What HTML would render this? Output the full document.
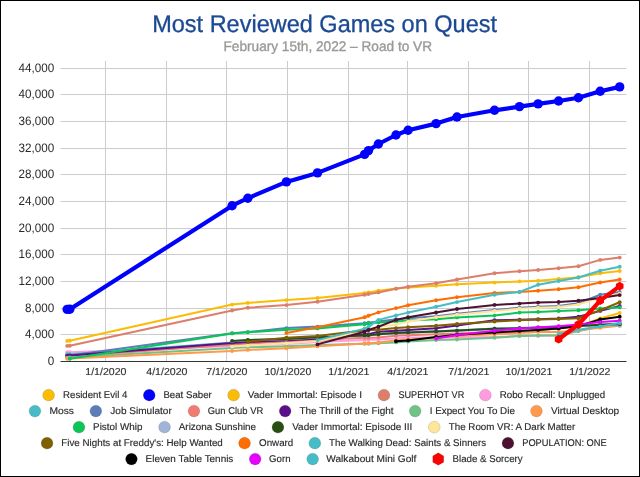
<!DOCTYPE html>
<html lang="en"><head><meta charset="utf-8"><title>Most Reviewed Games on Quest</title>
<style>
html,body{margin:0;padding:0;background:#fff;}
body{width:640px;height:477px;overflow:hidden;}
svg{display:block;font-family:"Liberation Sans",sans-serif;text-rendering:geometricPrecision;}
.ax{font-size:12.3px;fill:#2a2a2a;}
.xl{font-size:10.1px;fill:#333;stroke:#333;stroke-width:0.15px;}
.lg{font-size:9.8px;fill:#2a2a2a;stroke:#2a2a2a;stroke-width:0.15px;}
</style></head><body>
<svg width="640" height="477" viewBox="0 0 640 477">
<rect x="0" y="0" width="640" height="477" fill="#fff"/>
<text x="152.2" y="31.8" font-size="24.1" fill="#1b4993" stroke="#1b4993" stroke-width="0.3" textLength="344.8" lengthAdjust="spacingAndGlyphs">Most Reviewed Games on Quest</text>
<text x="223.5" y="51.2" font-size="14" fill="#999" stroke="#999" stroke-width="0.35" textLength="208.5" lengthAdjust="spacingAndGlyphs">February 15th, 2022 – Road to VR</text>
<g stroke="#ccc" stroke-width="1" fill="none">
<line x1="60.5" y1="334.5" x2="626.5" y2="334.5"/>
<line x1="60.5" y1="308.5" x2="626.5" y2="308.5"/>
<line x1="60.5" y1="281.5" x2="626.5" y2="281.5"/>
<line x1="60.5" y1="254.5" x2="626.5" y2="254.5"/>
<line x1="60.5" y1="228.5" x2="626.5" y2="228.5"/>
<line x1="60.5" y1="201.5" x2="626.5" y2="201.5"/>
<line x1="60.5" y1="174.5" x2="626.5" y2="174.5"/>
<line x1="60.5" y1="148.5" x2="626.5" y2="148.5"/>
<line x1="60.5" y1="121.5" x2="626.5" y2="121.5"/>
<line x1="60.5" y1="94.5" x2="626.5" y2="94.5"/>
<line x1="60.5" y1="68.5" x2="626.5" y2="68.5"/>
<line x1="105.5" y1="61.0" x2="105.5" y2="361.5"/>
<line x1="166.5" y1="61.0" x2="166.5" y2="361.5"/>
<line x1="226.5" y1="61.0" x2="226.5" y2="361.5"/>
<line x1="287.5" y1="61.0" x2="287.5" y2="361.5"/>
<line x1="348.5" y1="61.0" x2="348.5" y2="361.5"/>
<line x1="407.5" y1="61.0" x2="407.5" y2="361.5"/>
<line x1="468.5" y1="61.0" x2="468.5" y2="361.5"/>
<line x1="528.5" y1="61.0" x2="528.5" y2="361.5"/>
<line x1="589.5" y1="61.0" x2="589.5" y2="361.5"/>
</g>
<g class="ax" text-anchor="end">
<text x="54.3" y="365.10" textLength="6.49" lengthAdjust="spacingAndGlyphs">0</text>
<text x="54.3" y="338.10" textLength="29.19" lengthAdjust="spacingAndGlyphs">4,000</text>
<text x="54.3" y="312.10" textLength="29.19" lengthAdjust="spacingAndGlyphs">8,000</text>
<text x="54.3" y="285.10" textLength="35.68" lengthAdjust="spacingAndGlyphs">12,000</text>
<text x="54.3" y="258.10" textLength="35.68" lengthAdjust="spacingAndGlyphs">16,000</text>
<text x="54.3" y="232.10" textLength="35.68" lengthAdjust="spacingAndGlyphs">20,000</text>
<text x="54.3" y="205.10" textLength="35.68" lengthAdjust="spacingAndGlyphs">24,000</text>
<text x="54.3" y="178.10" textLength="35.68" lengthAdjust="spacingAndGlyphs">28,000</text>
<text x="54.3" y="152.10" textLength="35.68" lengthAdjust="spacingAndGlyphs">32,000</text>
<text x="54.3" y="125.10" textLength="35.68" lengthAdjust="spacingAndGlyphs">36,000</text>
<text x="54.3" y="98.10" textLength="35.68" lengthAdjust="spacingAndGlyphs">40,000</text>
<text x="54.3" y="72.10" textLength="35.68" lengthAdjust="spacingAndGlyphs">44,000</text>
</g>
<g class="xl" text-anchor="middle">
<text x="105.85" y="374.9" textLength="41.2" lengthAdjust="spacingAndGlyphs">1/1/2020</text>
<text x="166.85" y="374.9" textLength="41.2" lengthAdjust="spacingAndGlyphs">4/1/2020</text>
<text x="226.85" y="374.9" textLength="41.2" lengthAdjust="spacingAndGlyphs">7/1/2020</text>
<text x="287.85" y="374.9" textLength="46.8" lengthAdjust="spacingAndGlyphs">10/1/2020</text>
<text x="348.85" y="374.9" textLength="41.2" lengthAdjust="spacingAndGlyphs">1/1/2021</text>
<text x="407.85" y="374.9" textLength="41.2" lengthAdjust="spacingAndGlyphs">4/1/2021</text>
<text x="468.85" y="374.9" textLength="41.2" lengthAdjust="spacingAndGlyphs">7/1/2021</text>
<text x="528.85" y="374.9" textLength="46.8" lengthAdjust="spacingAndGlyphs">10/1/2021</text>
<text x="589.85" y="374.9" textLength="41.2" lengthAdjust="spacingAndGlyphs">1/1/2022</text>
</g>
<g fill="#fbbc04"><polyline points="578.4,326.3 600.2,318.4 619.7,313.0" fill="none" stroke="#fbbc04" stroke-width="2" stroke-linejoin="round" stroke-linecap="round"/><circle cx="578.4" cy="326.3" r="1.95"/><circle cx="600.2" cy="318.4" r="1.95"/><circle cx="619.7" cy="313.0" r="1.95"/></g>
<g fill="#0000ff"><polyline points="67.2,309.4 69.8,309.2 232.1,205.7 247.8,198.2 286.4,181.9 317.5,172.9 364.6,154.4 368.5,150.6 378.4,144.0 396.0,135.0 408.1,130.2 436.1,123.6 457.0,117.0 494.5,110.3 519.5,106.6 538.1,103.9 558.6,101.0 578.4,97.8 600.2,91.2 619.7,86.9" fill="none" stroke="#0000ff" stroke-width="4.2" stroke-linejoin="round" stroke-linecap="round"/><circle cx="67.2" cy="309.4" r="4.7"/><circle cx="69.8" cy="309.2" r="4.7"/><circle cx="232.1" cy="205.7" r="4.7"/><circle cx="247.8" cy="198.2" r="4.7"/><circle cx="286.4" cy="181.9" r="4.7"/><circle cx="317.5" cy="172.9" r="4.7"/><circle cx="364.6" cy="154.4" r="4.7"/><circle cx="368.5" cy="150.6" r="4.7"/><circle cx="378.4" cy="144.0" r="4.7"/><circle cx="396.0" cy="135.0" r="4.7"/><circle cx="408.1" cy="130.2" r="4.7"/><circle cx="436.1" cy="123.6" r="4.7"/><circle cx="457.0" cy="117.0" r="4.7"/><circle cx="494.5" cy="110.3" r="4.7"/><circle cx="519.5" cy="106.6" r="4.7"/><circle cx="538.1" cy="103.9" r="4.7"/><circle cx="558.6" cy="101.0" r="4.7"/><circle cx="578.4" cy="97.8" r="4.7"/><circle cx="600.2" cy="91.2" r="4.7"/><circle cx="619.7" cy="86.9" r="4.7"/></g>
<g fill="#fbbc04"><polyline points="67.2,340.9 69.8,340.8 232.1,304.6 247.8,302.9 286.4,300.1 317.5,298.0 364.6,293.1 368.5,292.4 378.4,290.7 396.0,288.6 408.1,287.5 436.1,285.8 457.0,284.3 494.5,282.6 519.5,281.4 538.1,280.7 558.6,279.0 578.4,277.3 600.2,273.2 619.7,271.0" fill="none" stroke="#fbbc04" stroke-width="2" stroke-linejoin="round" stroke-linecap="round"/><circle cx="67.2" cy="340.9" r="1.95"/><circle cx="69.8" cy="340.8" r="1.95"/><circle cx="232.1" cy="304.6" r="1.95"/><circle cx="247.8" cy="302.9" r="1.95"/><circle cx="286.4" cy="300.1" r="1.95"/><circle cx="317.5" cy="298.0" r="1.95"/><circle cx="364.6" cy="293.1" r="1.95"/><circle cx="368.5" cy="292.4" r="1.95"/><circle cx="378.4" cy="290.7" r="1.95"/><circle cx="396.0" cy="288.6" r="1.95"/><circle cx="408.1" cy="287.5" r="1.95"/><circle cx="436.1" cy="285.8" r="1.95"/><circle cx="457.0" cy="284.3" r="1.95"/><circle cx="494.5" cy="282.6" r="1.95"/><circle cx="519.5" cy="281.4" r="1.95"/><circle cx="538.1" cy="280.7" r="1.95"/><circle cx="558.6" cy="279.0" r="1.95"/><circle cx="578.4" cy="277.3" r="1.95"/><circle cx="600.2" cy="273.2" r="1.95"/><circle cx="619.7" cy="271.0" r="1.95"/></g>
<g fill="#dd7e6b"><polyline points="67.2,345.9 69.8,345.8 232.1,310.5 247.8,307.8 286.4,305.1 317.5,301.7 364.6,294.8 368.5,294.0 378.4,292.4 396.0,288.7 408.1,286.7 436.1,283.2 457.0,279.4 494.5,273.2 519.5,271.2 538.1,270.0 558.6,268.3 578.4,266.3 600.2,259.9 619.7,257.6" fill="none" stroke="#dd7e6b" stroke-width="2" stroke-linejoin="round" stroke-linecap="round"/><circle cx="67.2" cy="345.9" r="1.95"/><circle cx="69.8" cy="345.8" r="1.95"/><circle cx="232.1" cy="310.5" r="1.95"/><circle cx="247.8" cy="307.8" r="1.95"/><circle cx="286.4" cy="305.1" r="1.95"/><circle cx="317.5" cy="301.7" r="1.95"/><circle cx="364.6" cy="294.8" r="1.95"/><circle cx="368.5" cy="294.0" r="1.95"/><circle cx="378.4" cy="292.4" r="1.95"/><circle cx="396.0" cy="288.7" r="1.95"/><circle cx="408.1" cy="286.7" r="1.95"/><circle cx="436.1" cy="283.2" r="1.95"/><circle cx="457.0" cy="279.4" r="1.95"/><circle cx="494.5" cy="273.2" r="1.95"/><circle cx="519.5" cy="271.2" r="1.95"/><circle cx="538.1" cy="270.0" r="1.95"/><circle cx="558.6" cy="268.3" r="1.95"/><circle cx="578.4" cy="266.3" r="1.95"/><circle cx="600.2" cy="259.9" r="1.95"/><circle cx="619.7" cy="257.6" r="1.95"/></g>
<g fill="#ff9ce0"><polyline points="67.2,352.3 69.8,352.3 232.1,345.9 247.8,345.4 286.4,343.9 317.5,342.1 364.6,339.9 368.5,339.8 378.4,339.4 396.0,338.5 408.1,337.6 436.1,337.5 457.0,337.4 494.5,336.9 519.5,336.1 538.1,335.7 558.6,335.3 578.4,331.1 600.2,326.4 619.7,323.5" fill="none" stroke="#ff9ce0" stroke-width="2" stroke-linejoin="round" stroke-linecap="round"/><circle cx="67.2" cy="352.3" r="1.95"/><circle cx="69.8" cy="352.3" r="1.95"/><circle cx="232.1" cy="345.9" r="1.95"/><circle cx="247.8" cy="345.4" r="1.95"/><circle cx="286.4" cy="343.9" r="1.95"/><circle cx="317.5" cy="342.1" r="1.95"/><circle cx="364.6" cy="339.9" r="1.95"/><circle cx="368.5" cy="339.8" r="1.95"/><circle cx="378.4" cy="339.4" r="1.95"/><circle cx="396.0" cy="338.5" r="1.95"/><circle cx="408.1" cy="337.6" r="1.95"/><circle cx="436.1" cy="337.5" r="1.95"/><circle cx="457.0" cy="337.4" r="1.95"/><circle cx="494.5" cy="336.9" r="1.95"/><circle cx="519.5" cy="336.1" r="1.95"/><circle cx="538.1" cy="335.7" r="1.95"/><circle cx="558.6" cy="335.3" r="1.95"/><circle cx="578.4" cy="331.1" r="1.95"/><circle cx="600.2" cy="326.4" r="1.95"/><circle cx="619.7" cy="323.5" r="1.95"/></g>
<g fill="#46bdc6"><polyline points="67.2,354.3 69.8,354.2 232.1,342.6 247.8,341.7 286.4,339.9 317.5,338.4 364.6,335.1 368.5,334.9 378.4,334.1 396.0,332.8 408.1,332.3 436.1,331.3 457.0,330.4 494.5,328.5 519.5,327.9 538.1,327.3 558.6,326.6 578.4,325.7 600.2,324.6 619.7,323.6" fill="none" stroke="#46bdc6" stroke-width="2" stroke-linejoin="round" stroke-linecap="round"/><circle cx="67.2" cy="354.3" r="1.95"/><circle cx="69.8" cy="354.2" r="1.95"/><circle cx="232.1" cy="342.6" r="1.95"/><circle cx="247.8" cy="341.7" r="1.95"/><circle cx="286.4" cy="339.9" r="1.95"/><circle cx="317.5" cy="338.4" r="1.95"/><circle cx="364.6" cy="335.1" r="1.95"/><circle cx="368.5" cy="334.9" r="1.95"/><circle cx="378.4" cy="334.1" r="1.95"/><circle cx="396.0" cy="332.8" r="1.95"/><circle cx="408.1" cy="332.3" r="1.95"/><circle cx="436.1" cy="331.3" r="1.95"/><circle cx="457.0" cy="330.4" r="1.95"/><circle cx="494.5" cy="328.5" r="1.95"/><circle cx="519.5" cy="327.9" r="1.95"/><circle cx="538.1" cy="327.3" r="1.95"/><circle cx="558.6" cy="326.6" r="1.95"/><circle cx="578.4" cy="325.7" r="1.95"/><circle cx="600.2" cy="324.6" r="1.95"/><circle cx="619.7" cy="323.6" r="1.95"/></g>
<g fill="#5b7db8"><polyline points="67.2,355.7 69.8,355.6 232.1,333.2 247.8,332.1 286.4,328.1 317.5,326.6 364.6,323.2 368.5,322.7 378.4,321.6 396.0,319.2 408.1,318.3 436.1,316.2 457.0,313.7 494.5,310.0 519.5,307.8 538.1,306.7 558.6,305.9 578.4,303.3 600.2,294.7 619.7,291.9" fill="none" stroke="#5b7db8" stroke-width="2" stroke-linejoin="round" stroke-linecap="round"/><circle cx="67.2" cy="355.7" r="1.95"/><circle cx="69.8" cy="355.6" r="1.95"/><circle cx="232.1" cy="333.2" r="1.95"/><circle cx="247.8" cy="332.1" r="1.95"/><circle cx="286.4" cy="328.1" r="1.95"/><circle cx="317.5" cy="326.6" r="1.95"/><circle cx="364.6" cy="323.2" r="1.95"/><circle cx="368.5" cy="322.7" r="1.95"/><circle cx="378.4" cy="321.6" r="1.95"/><circle cx="396.0" cy="319.2" r="1.95"/><circle cx="408.1" cy="318.3" r="1.95"/><circle cx="436.1" cy="316.2" r="1.95"/><circle cx="457.0" cy="313.7" r="1.95"/><circle cx="494.5" cy="310.0" r="1.95"/><circle cx="519.5" cy="307.8" r="1.95"/><circle cx="538.1" cy="306.7" r="1.95"/><circle cx="558.6" cy="305.9" r="1.95"/><circle cx="578.4" cy="303.3" r="1.95"/><circle cx="600.2" cy="294.7" r="1.95"/><circle cx="619.7" cy="291.9" r="1.95"/></g>
<g fill="#f07b72"><polyline points="67.2,356.6 69.8,356.5 232.1,344.6 247.8,343.5 286.4,341.6 317.5,340.1 364.6,337.8 368.5,337.7 378.4,337.4 396.0,335.8 408.1,335.3 436.1,334.3 457.0,333.6 494.5,332.1 519.5,331.0 538.1,330.0 558.6,328.6 578.4,326.3 600.2,324.9 619.7,324.3" fill="none" stroke="#f07b72" stroke-width="2" stroke-linejoin="round" stroke-linecap="round"/><circle cx="67.2" cy="356.6" r="1.95"/><circle cx="69.8" cy="356.5" r="1.95"/><circle cx="232.1" cy="344.6" r="1.95"/><circle cx="247.8" cy="343.5" r="1.95"/><circle cx="286.4" cy="341.6" r="1.95"/><circle cx="317.5" cy="340.1" r="1.95"/><circle cx="364.6" cy="337.8" r="1.95"/><circle cx="368.5" cy="337.7" r="1.95"/><circle cx="378.4" cy="337.4" r="1.95"/><circle cx="396.0" cy="335.8" r="1.95"/><circle cx="408.1" cy="335.3" r="1.95"/><circle cx="436.1" cy="334.3" r="1.95"/><circle cx="457.0" cy="333.6" r="1.95"/><circle cx="494.5" cy="332.1" r="1.95"/><circle cx="519.5" cy="331.0" r="1.95"/><circle cx="538.1" cy="330.0" r="1.95"/><circle cx="558.6" cy="328.6" r="1.95"/><circle cx="578.4" cy="326.3" r="1.95"/><circle cx="600.2" cy="324.9" r="1.95"/><circle cx="619.7" cy="324.3" r="1.95"/></g>
<g fill="#5b0f8b"><polyline points="67.2,355.6 69.8,355.5 232.1,343.0 247.8,342.1 286.4,340.2 317.5,338.7 364.6,334.4 368.5,334.1 378.4,331.7 396.0,330.8 408.1,330.0 436.1,328.2 457.0,325.6 494.5,320.3 519.5,319.8 538.1,319.2 558.6,318.5 578.4,316.8 600.2,310.9 619.7,306.0" fill="none" stroke="#5b0f8b" stroke-width="2" stroke-linejoin="round" stroke-linecap="round"/><circle cx="67.2" cy="355.6" r="1.95"/><circle cx="69.8" cy="355.5" r="1.95"/><circle cx="232.1" cy="343.0" r="1.95"/><circle cx="247.8" cy="342.1" r="1.95"/><circle cx="286.4" cy="340.2" r="1.95"/><circle cx="317.5" cy="338.7" r="1.95"/><circle cx="364.6" cy="334.4" r="1.95"/><circle cx="368.5" cy="334.1" r="1.95"/><circle cx="378.4" cy="331.7" r="1.95"/><circle cx="396.0" cy="330.8" r="1.95"/><circle cx="408.1" cy="330.0" r="1.95"/><circle cx="436.1" cy="328.2" r="1.95"/><circle cx="457.0" cy="325.6" r="1.95"/><circle cx="494.5" cy="320.3" r="1.95"/><circle cx="519.5" cy="319.8" r="1.95"/><circle cx="538.1" cy="319.2" r="1.95"/><circle cx="558.6" cy="318.5" r="1.95"/><circle cx="578.4" cy="316.8" r="1.95"/><circle cx="600.2" cy="310.9" r="1.95"/><circle cx="619.7" cy="306.0" r="1.95"/></g>
<g fill="#71c287"><polyline points="67.2,357.6 69.8,357.5 232.1,348.1 247.8,347.3 286.4,346.3 317.5,344.9 364.6,343.8 368.5,343.7 378.4,343.3 396.0,342.4 408.1,341.6 436.1,340.1 457.0,339.5 494.5,337.7 519.5,336.0 538.1,335.6 558.6,335.5 578.4,331.1 600.2,326.3 619.7,323.3" fill="none" stroke="#71c287" stroke-width="2" stroke-linejoin="round" stroke-linecap="round"/><circle cx="67.2" cy="357.6" r="1.95"/><circle cx="69.8" cy="357.5" r="1.95"/><circle cx="232.1" cy="348.1" r="1.95"/><circle cx="247.8" cy="347.3" r="1.95"/><circle cx="286.4" cy="346.3" r="1.95"/><circle cx="317.5" cy="344.9" r="1.95"/><circle cx="364.6" cy="343.8" r="1.95"/><circle cx="368.5" cy="343.7" r="1.95"/><circle cx="378.4" cy="343.3" r="1.95"/><circle cx="396.0" cy="342.4" r="1.95"/><circle cx="408.1" cy="341.6" r="1.95"/><circle cx="436.1" cy="340.1" r="1.95"/><circle cx="457.0" cy="339.5" r="1.95"/><circle cx="494.5" cy="337.7" r="1.95"/><circle cx="519.5" cy="336.0" r="1.95"/><circle cx="538.1" cy="335.6" r="1.95"/><circle cx="558.6" cy="335.5" r="1.95"/><circle cx="578.4" cy="331.1" r="1.95"/><circle cx="600.2" cy="326.3" r="1.95"/><circle cx="619.7" cy="323.3" r="1.95"/></g>
<g fill="#ff994d"><polyline points="67.2,358.7 69.8,358.6 232.1,351.1 247.8,349.9 286.4,348.2 317.5,346.3 364.6,343.5 368.5,343.3 378.4,342.6 396.0,340.5 408.1,339.6 436.1,337.4 457.0,336.1 494.5,334.2 519.5,333.1 538.1,331.9 558.6,332.0 578.4,330.2 600.2,327.7 619.7,325.8" fill="none" stroke="#ff994d" stroke-width="2" stroke-linejoin="round" stroke-linecap="round"/><circle cx="67.2" cy="358.7" r="1.95"/><circle cx="69.8" cy="358.6" r="1.95"/><circle cx="232.1" cy="351.1" r="1.95"/><circle cx="247.8" cy="349.9" r="1.95"/><circle cx="286.4" cy="348.2" r="1.95"/><circle cx="317.5" cy="346.3" r="1.95"/><circle cx="364.6" cy="343.5" r="1.95"/><circle cx="368.5" cy="343.3" r="1.95"/><circle cx="378.4" cy="342.6" r="1.95"/><circle cx="396.0" cy="340.5" r="1.95"/><circle cx="408.1" cy="339.6" r="1.95"/><circle cx="436.1" cy="337.4" r="1.95"/><circle cx="457.0" cy="336.1" r="1.95"/><circle cx="494.5" cy="334.2" r="1.95"/><circle cx="519.5" cy="333.1" r="1.95"/><circle cx="538.1" cy="331.9" r="1.95"/><circle cx="558.6" cy="332.0" r="1.95"/><circle cx="578.4" cy="330.2" r="1.95"/><circle cx="600.2" cy="327.7" r="1.95"/><circle cx="619.7" cy="325.8" r="1.95"/></g>
<g fill="#0bc657"><polyline points="69.8,358.7 232.1,333.4 247.8,332.3 286.4,329.8 317.5,328.4 364.6,324.2 368.5,323.5 378.4,322.5 396.0,321.4 408.1,320.4 436.1,319.2 457.0,317.4 494.5,315.6 519.5,312.6 538.1,311.9 558.6,311.0 578.4,310.2 600.2,308.4 619.7,307.4" fill="none" stroke="#0bc657" stroke-width="2" stroke-linejoin="round" stroke-linecap="round"/><circle cx="69.8" cy="358.7" r="1.95"/><circle cx="232.1" cy="333.4" r="1.95"/><circle cx="247.8" cy="332.3" r="1.95"/><circle cx="286.4" cy="329.8" r="1.95"/><circle cx="317.5" cy="328.4" r="1.95"/><circle cx="364.6" cy="324.2" r="1.95"/><circle cx="368.5" cy="323.5" r="1.95"/><circle cx="378.4" cy="322.5" r="1.95"/><circle cx="396.0" cy="321.4" r="1.95"/><circle cx="408.1" cy="320.4" r="1.95"/><circle cx="436.1" cy="319.2" r="1.95"/><circle cx="457.0" cy="317.4" r="1.95"/><circle cx="494.5" cy="315.6" r="1.95"/><circle cx="519.5" cy="312.6" r="1.95"/><circle cx="538.1" cy="311.9" r="1.95"/><circle cx="558.6" cy="311.0" r="1.95"/><circle cx="578.4" cy="310.2" r="1.95"/><circle cx="600.2" cy="308.4" r="1.95"/><circle cx="619.7" cy="307.4" r="1.95"/></g>
<g fill="#a0b4d8"><polyline points="232.1,341.2 247.8,340.2 286.4,339.2 317.5,337.6 364.6,335.7 368.5,335.5 378.4,334.6 396.0,333.2 408.1,332.7 436.1,331.7 457.0,330.9 494.5,329.1 519.5,328.6 538.1,328.0 558.6,327.2 578.4,326.2 600.2,325.0 619.7,325.7" fill="none" stroke="#a0b4d8" stroke-width="2" stroke-linejoin="round" stroke-linecap="round"/><circle cx="232.1" cy="341.2" r="1.95"/><circle cx="247.8" cy="340.2" r="1.95"/><circle cx="286.4" cy="339.2" r="1.95"/><circle cx="317.5" cy="337.6" r="1.95"/><circle cx="364.6" cy="335.7" r="1.95"/><circle cx="368.5" cy="335.5" r="1.95"/><circle cx="378.4" cy="334.6" r="1.95"/><circle cx="396.0" cy="333.2" r="1.95"/><circle cx="408.1" cy="332.7" r="1.95"/><circle cx="436.1" cy="331.7" r="1.95"/><circle cx="457.0" cy="330.9" r="1.95"/><circle cx="494.5" cy="329.1" r="1.95"/><circle cx="519.5" cy="328.6" r="1.95"/><circle cx="538.1" cy="328.0" r="1.95"/><circle cx="558.6" cy="327.2" r="1.95"/><circle cx="578.4" cy="326.2" r="1.95"/><circle cx="600.2" cy="325.0" r="1.95"/><circle cx="619.7" cy="325.7" r="1.95"/></g>
<g fill="#274e13"><polyline points="232.1,340.9 247.8,339.9 286.4,338.9 317.5,337.3 364.6,335.4 368.5,335.2 378.4,334.3 396.0,332.9 408.1,332.4 436.1,331.4 457.0,330.6 494.5,328.8 519.5,328.3 538.1,327.7 558.6,326.9 578.4,325.9 600.2,324.7 619.7,324.3" fill="none" stroke="#274e13" stroke-width="2" stroke-linejoin="round" stroke-linecap="round"/><circle cx="232.1" cy="340.9" r="1.95"/><circle cx="247.8" cy="339.9" r="1.95"/><circle cx="286.4" cy="338.9" r="1.95"/><circle cx="317.5" cy="337.3" r="1.95"/><circle cx="364.6" cy="335.4" r="1.95"/><circle cx="368.5" cy="335.2" r="1.95"/><circle cx="378.4" cy="334.3" r="1.95"/><circle cx="396.0" cy="332.9" r="1.95"/><circle cx="408.1" cy="332.4" r="1.95"/><circle cx="436.1" cy="331.4" r="1.95"/><circle cx="457.0" cy="330.6" r="1.95"/><circle cx="494.5" cy="328.8" r="1.95"/><circle cx="519.5" cy="328.3" r="1.95"/><circle cx="538.1" cy="327.7" r="1.95"/><circle cx="558.6" cy="326.9" r="1.95"/><circle cx="578.4" cy="325.9" r="1.95"/><circle cx="600.2" cy="324.7" r="1.95"/><circle cx="619.7" cy="324.3" r="1.95"/></g>
<g fill="#ffe599"><polyline points="232.1,346.5 247.8,345.5 286.4,343.2 317.5,341.1 364.6,331.1 368.5,329.8 378.4,327.1 396.0,324.4 408.1,321.6 436.1,317.3 457.0,314.8 494.5,311.0 519.5,308.8 538.1,307.7 558.6,306.9 578.4,304.4 600.2,298.1 619.7,293.6" fill="none" stroke="#ffe599" stroke-width="2" stroke-linejoin="round" stroke-linecap="round"/><circle cx="232.1" cy="346.5" r="1.95"/><circle cx="247.8" cy="345.5" r="1.95"/><circle cx="286.4" cy="343.2" r="1.95"/><circle cx="317.5" cy="341.1" r="1.95"/><circle cx="364.6" cy="331.1" r="1.95"/><circle cx="368.5" cy="329.8" r="1.95"/><circle cx="378.4" cy="327.1" r="1.95"/><circle cx="396.0" cy="324.4" r="1.95"/><circle cx="408.1" cy="321.6" r="1.95"/><circle cx="436.1" cy="317.3" r="1.95"/><circle cx="457.0" cy="314.8" r="1.95"/><circle cx="494.5" cy="311.0" r="1.95"/><circle cx="519.5" cy="308.8" r="1.95"/><circle cx="538.1" cy="307.7" r="1.95"/><circle cx="558.6" cy="306.9" r="1.95"/><circle cx="578.4" cy="304.4" r="1.95"/><circle cx="600.2" cy="298.1" r="1.95"/><circle cx="619.7" cy="293.6" r="1.95"/></g>
<g fill="#7f6000"><polyline points="247.8,341.7 286.4,337.7 317.5,335.9 364.6,330.3 368.5,330.1 378.4,329.8 396.0,328.1 408.1,327.2 436.1,325.8 457.0,324.0 494.5,321.5 519.5,320.3 538.1,319.6 558.6,318.9 578.4,318.2 600.2,310.2 619.7,302.2" fill="none" stroke="#7f6000" stroke-width="2" stroke-linejoin="round" stroke-linecap="round"/><circle cx="247.8" cy="341.7" r="1.95"/><circle cx="286.4" cy="337.7" r="1.95"/><circle cx="317.5" cy="335.9" r="1.95"/><circle cx="364.6" cy="330.3" r="1.95"/><circle cx="368.5" cy="330.1" r="1.95"/><circle cx="378.4" cy="329.8" r="1.95"/><circle cx="396.0" cy="328.1" r="1.95"/><circle cx="408.1" cy="327.2" r="1.95"/><circle cx="436.1" cy="325.8" r="1.95"/><circle cx="457.0" cy="324.0" r="1.95"/><circle cx="494.5" cy="321.5" r="1.95"/><circle cx="519.5" cy="320.3" r="1.95"/><circle cx="538.1" cy="319.6" r="1.95"/><circle cx="558.6" cy="318.9" r="1.95"/><circle cx="578.4" cy="318.2" r="1.95"/><circle cx="600.2" cy="310.2" r="1.95"/><circle cx="619.7" cy="302.2" r="1.95"/></g>
<g fill="#ff6d01"><polyline points="286.4,332.9 317.5,327.2 364.6,317.3 368.5,315.7 378.4,312.4 396.0,308.1 408.1,305.3 436.1,300.3 457.0,297.2 494.5,292.9 519.5,291.9 538.1,290.7 558.6,289.3 578.4,287.2 600.2,282.5 619.7,279.4" fill="none" stroke="#ff6d01" stroke-width="2" stroke-linejoin="round" stroke-linecap="round"/><circle cx="286.4" cy="332.9" r="1.95"/><circle cx="317.5" cy="327.2" r="1.95"/><circle cx="364.6" cy="317.3" r="1.95"/><circle cx="368.5" cy="315.7" r="1.95"/><circle cx="378.4" cy="312.4" r="1.95"/><circle cx="396.0" cy="308.1" r="1.95"/><circle cx="408.1" cy="305.3" r="1.95"/><circle cx="436.1" cy="300.3" r="1.95"/><circle cx="457.0" cy="297.2" r="1.95"/><circle cx="494.5" cy="292.9" r="1.95"/><circle cx="519.5" cy="291.9" r="1.95"/><circle cx="538.1" cy="290.7" r="1.95"/><circle cx="558.6" cy="289.3" r="1.95"/><circle cx="578.4" cy="287.2" r="1.95"/><circle cx="600.2" cy="282.5" r="1.95"/><circle cx="619.7" cy="279.4" r="1.95"/></g>
<g fill="#46bdc6"><polyline points="317.5,340.1 364.6,328.6 368.5,326.9 378.4,319.9 396.0,315.4 408.1,312.6 436.1,306.8 457.0,302.1 494.5,294.8 519.5,291.9 538.1,284.8 558.6,281.0 578.4,277.5 600.2,270.8 619.7,266.7" fill="none" stroke="#46bdc6" stroke-width="2" stroke-linejoin="round" stroke-linecap="round"/><circle cx="317.5" cy="340.1" r="1.95"/><circle cx="364.6" cy="328.6" r="1.95"/><circle cx="368.5" cy="326.9" r="1.95"/><circle cx="378.4" cy="319.9" r="1.95"/><circle cx="396.0" cy="315.4" r="1.95"/><circle cx="408.1" cy="312.6" r="1.95"/><circle cx="436.1" cy="306.8" r="1.95"/><circle cx="457.0" cy="302.1" r="1.95"/><circle cx="494.5" cy="294.8" r="1.95"/><circle cx="519.5" cy="291.9" r="1.95"/><circle cx="538.1" cy="284.8" r="1.95"/><circle cx="558.6" cy="281.0" r="1.95"/><circle cx="578.4" cy="277.5" r="1.95"/><circle cx="600.2" cy="270.8" r="1.95"/><circle cx="619.7" cy="266.7" r="1.95"/></g>
<g fill="#4c1130"><polyline points="317.5,344.4 364.6,331.7 368.5,329.9 378.4,326.7 396.0,319.9 408.1,317.3 436.1,312.4 457.0,309.0 494.5,304.9 519.5,303.6 538.1,302.6 558.6,302.0 578.4,300.8 600.2,297.9 619.7,295.1" fill="none" stroke="#4c1130" stroke-width="2" stroke-linejoin="round" stroke-linecap="round"/><circle cx="317.5" cy="344.4" r="1.95"/><circle cx="364.6" cy="331.7" r="1.95"/><circle cx="368.5" cy="329.9" r="1.95"/><circle cx="378.4" cy="326.7" r="1.95"/><circle cx="396.0" cy="319.9" r="1.95"/><circle cx="408.1" cy="317.3" r="1.95"/><circle cx="436.1" cy="312.4" r="1.95"/><circle cx="457.0" cy="309.0" r="1.95"/><circle cx="494.5" cy="304.9" r="1.95"/><circle cx="519.5" cy="303.6" r="1.95"/><circle cx="538.1" cy="302.6" r="1.95"/><circle cx="558.6" cy="302.0" r="1.95"/><circle cx="578.4" cy="300.8" r="1.95"/><circle cx="600.2" cy="297.9" r="1.95"/><circle cx="619.7" cy="295.1" r="1.95"/></g>
<g fill="#000000"><polyline points="396.0,341.3 408.1,340.4 436.1,336.9 457.0,334.7 494.5,332.6 519.5,330.9 538.1,329.9 558.6,328.4 578.4,326.1 600.2,319.5 619.7,316.7" fill="none" stroke="#000000" stroke-width="2" stroke-linejoin="round" stroke-linecap="round"/><circle cx="396.0" cy="341.3" r="1.95"/><circle cx="408.1" cy="340.4" r="1.95"/><circle cx="436.1" cy="336.9" r="1.95"/><circle cx="457.0" cy="334.7" r="1.95"/><circle cx="494.5" cy="332.6" r="1.95"/><circle cx="519.5" cy="330.9" r="1.95"/><circle cx="538.1" cy="329.9" r="1.95"/><circle cx="558.6" cy="328.4" r="1.95"/><circle cx="578.4" cy="326.1" r="1.95"/><circle cx="600.2" cy="319.5" r="1.95"/><circle cx="619.7" cy="316.7" r="1.95"/></g>
<g fill="#e600ff"><polyline points="436.1,338.6 457.0,335.1 494.5,330.7 519.5,328.4 538.1,327.4 558.6,326.3 578.4,324.6 600.2,322.1 619.7,320.8" fill="none" stroke="#e600ff" stroke-width="2" stroke-linejoin="round" stroke-linecap="round"/><circle cx="436.1" cy="338.6" r="1.95"/><circle cx="457.0" cy="335.1" r="1.95"/><circle cx="494.5" cy="330.7" r="1.95"/><circle cx="519.5" cy="328.4" r="1.95"/><circle cx="538.1" cy="327.4" r="1.95"/><circle cx="558.6" cy="326.3" r="1.95"/><circle cx="578.4" cy="324.6" r="1.95"/><circle cx="600.2" cy="322.1" r="1.95"/><circle cx="619.7" cy="320.8" r="1.95"/></g>
<g fill="#46bdc6"><polyline points="558.6,333.9 578.4,329.8 600.2,326.4 619.7,323.1" fill="none" stroke="#46bdc6" stroke-width="2" stroke-linejoin="round" stroke-linecap="round"/><circle cx="558.6" cy="333.9" r="1.95"/><circle cx="578.4" cy="329.8" r="1.95"/><circle cx="600.2" cy="326.4" r="1.95"/><circle cx="619.7" cy="323.1" r="1.95"/></g>
<g fill="#ff0000"><polyline points="558.6,339.2 578.4,324.5 600.2,300.6 619.7,286.1" fill="none" stroke="#ff0000" stroke-width="4.2" stroke-linejoin="round" stroke-linecap="round"/><polygon points="558.60,334.80 554.79,337.00 554.79,341.40 558.60,343.60 562.41,341.40 562.41,337.00"/><polygon points="578.40,320.10 574.59,322.30 574.59,326.70 578.40,328.90 582.21,326.70 582.21,322.30"/><polygon points="600.20,296.20 596.39,298.40 596.39,302.80 600.20,305.00 604.01,302.80 604.01,298.40"/><polygon points="619.70,281.70 615.89,283.90 615.89,288.30 619.70,290.50 623.51,288.30 623.51,283.90"/></g>
<line x1="60.5" y1="361.50" x2="626.5" y2="361.50" stroke="#333" stroke-width="1"/>
<g class="lg">
<circle cx="48.60" cy="395.15" r="5.9" fill="#fbbc04"/><text x="63.10" y="398.30" textLength="64.30" lengthAdjust="spacingAndGlyphs">Resident Evil 4</text>
<circle cx="149.25" cy="395.15" r="5.9" fill="#0000ff"/><text x="163.45" y="398.30" textLength="48.30" lengthAdjust="spacingAndGlyphs">Beat Saber</text>
<circle cx="233.60" cy="395.15" r="5.9" fill="#fbbc04"/><text x="247.80" y="398.30" textLength="114.30" lengthAdjust="spacingAndGlyphs">Vader Immortal: Episode I</text>
<circle cx="383.95" cy="395.15" r="5.9" fill="#dd7e6b"/><text x="398.45" y="398.30" textLength="65.80" lengthAdjust="spacingAndGlyphs">SUPERHOT VR</text>
<circle cx="485.35" cy="395.15" r="5.9" fill="#ff9ce0"/><text x="499.70" y="398.30" textLength="105.50" lengthAdjust="spacingAndGlyphs">Robo Recall: Unplugged</text>
<circle cx="34.95" cy="411.05" r="5.9" fill="#46bdc6"/><text x="49.40" y="414.20" textLength="24.60" lengthAdjust="spacingAndGlyphs">Moss</text>
<circle cx="95.85" cy="411.05" r="5.9" fill="#5b7db8"/><text x="110.30" y="414.20" textLength="61.45" lengthAdjust="spacingAndGlyphs">Job Simulator</text>
<circle cx="193.95" cy="411.05" r="5.9" fill="#f07b72"/><text x="207.80" y="414.20" textLength="55.50" lengthAdjust="spacingAndGlyphs">Gun Club VR</text>
<circle cx="285.15" cy="411.05" r="5.9" fill="#5b0f8b"/><text x="299.40" y="414.20" textLength="94.20" lengthAdjust="spacingAndGlyphs">The Thrill of the Fight</text>
<circle cx="415.15" cy="411.05" r="5.9" fill="#71c287"/><text x="429.70" y="414.20" textLength="85.20" lengthAdjust="spacingAndGlyphs">I Expect You To Die</text>
<circle cx="536.45" cy="411.05" r="5.9" fill="#ff994d"/><text x="550.95" y="414.20" textLength="68.30" lengthAdjust="spacingAndGlyphs">Virtual Desktop</text>
<circle cx="78.95" cy="427.15" r="5.9" fill="#0bc657"/><text x="93.10" y="430.30" textLength="49.30" lengthAdjust="spacingAndGlyphs">Pistol Whip</text>
<circle cx="164.55" cy="427.15" r="5.9" fill="#a0b4d8"/><text x="178.80" y="430.30" textLength="77.30" lengthAdjust="spacingAndGlyphs">Arizona Sunshine</text>
<circle cx="277.95" cy="427.15" r="5.9" fill="#274e13"/><text x="292.20" y="430.30" textLength="120.20" lengthAdjust="spacingAndGlyphs">Vader Immortal: Episode III</text>
<circle cx="434.25" cy="427.15" r="5.9" fill="#ffe599"/><text x="448.80" y="430.30" textLength="126.40" lengthAdjust="spacingAndGlyphs">The Room VR: A Dark Matter</text>
<circle cx="47.05" cy="443.15" r="5.9" fill="#7f6000"/><text x="61.30" y="446.30" textLength="161.50" lengthAdjust="spacingAndGlyphs">Five Nights at Freddy's: Help Wanted</text>
<circle cx="244.55" cy="443.15" r="5.9" fill="#ff6d01"/><text x="259.10" y="446.30" textLength="34.20" lengthAdjust="spacingAndGlyphs">Onward</text>
<circle cx="314.85" cy="443.15" r="5.9" fill="#46bdc6"/><text x="329.10" y="446.30" textLength="157.00" lengthAdjust="spacingAndGlyphs">The Walking Dead: Saints &amp; Sinners</text>
<circle cx="507.95" cy="443.15" r="5.9" fill="#4c1130"/><text x="522.20" y="446.30" textLength="84.55" lengthAdjust="spacingAndGlyphs">POPULATION: ONE</text>
<circle cx="131.45" cy="459.05" r="5.9" fill="#000000"/><text x="145.60" y="462.20" textLength="87.70" lengthAdjust="spacingAndGlyphs">Eleven Table Tennis</text>
<circle cx="255.15" cy="459.05" r="5.9" fill="#e600ff"/><text x="269.10" y="462.20" textLength="21.40" lengthAdjust="spacingAndGlyphs">Gorn</text>
<circle cx="312.65" cy="459.05" r="5.9" fill="#46bdc6"/><text x="326.30" y="462.20" textLength="90.10" lengthAdjust="spacingAndGlyphs">Walkabout Mini Golf</text>
<polygon points="438.25,452.75 432.79,455.90 432.79,462.20 438.25,465.35 443.71,462.20 443.71,455.90" fill="#ff0000"/><text x="452.50" y="462.20" textLength="70.20" lengthAdjust="spacingAndGlyphs">Blade &amp; Sorcery</text>
</g>
<rect x="0.5" y="0.5" width="639" height="476" fill="none" stroke="#000" stroke-width="1"/>
</svg>
</body></html>
